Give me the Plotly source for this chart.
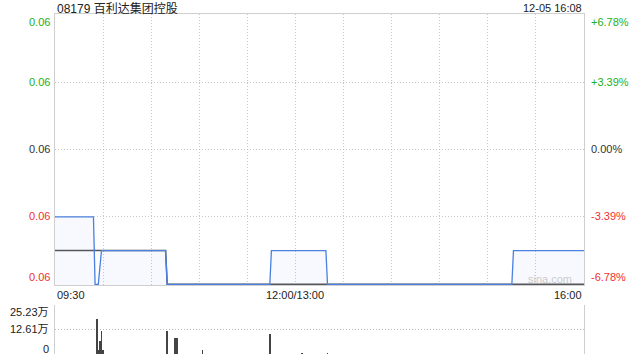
import plotly.graph_objects as go

# ---- data ----
title_text = "08179 百利达集团控股"
date_text = "12-05 16:08"
prev_close = 0.059
price_min, price_max = 0.055, 0.063

# minutes since 09:30 (trading minutes, lunch removed) and prices
price_times = [0, 24, 25, 27, 29, 69, 70, 134, 135, 169, 170, 285, 286, 330]
price_vals = [0.057, 0.057, 0.055, 0.055, 0.056, 0.056, 0.055, 0.055,
              0.056, 0.056, 0.055, 0.055, 0.056, 0.056]

avg_times = [0, 69, 70, 330]
avg_vals = [0.056, 0.056, 0.055, 0.055]

vol_times = [26, 27, 28, 29, 30, 70, 75, 76, 92, 134, 154, 170]
vol_vals = [180000, 20000, 67000, 118000, 20000, 118000, 82000, 82000,
            20000, 103000, 3000, 3000]
vol_max = 252300

left_labels = ["0.06", "0.06", "0.06", "0.06", "0.06"]
right_labels = ["+6.78%", "+3.39%", "0.00%", "-3.39%", "-6.78%"]
label_colors = ["#22b022", "#22b022", "#333333", "#f03030", "#f03030"]
vol_labels = ["25.23万", "12.61万", "0"]
time_labels = ["09:30", "12:00/13:00", "16:00"]

# ---- figure ----
FONT = "Liberation Sans, Arial, Noto Sans CJK SC, sans-serif"
H_TOP, H_BOT = 14, 354  # pixel extents of the paper area
def py(p):
    return (H_BOT - p) / (H_BOT - H_TOP)

fig = go.Figure()
fig.add_trace(go.Scatter(x=avg_times, y=avg_vals, mode="lines",
                         line=dict(color="#555555", width=1.5),
                         xaxis="x", yaxis="y", hoverinfo="skip"))
fig.add_trace(go.Scatter(x=price_times, y=price_vals, mode="lines",
                         line=dict(color="#4a80e0", width=1.3),
                         fill="tozeroy", fillcolor="rgba(90,140,230,0.05)",
                         xaxis="x", yaxis="y", hoverinfo="skip"))
fig.add_trace(go.Bar(x=vol_times, y=vol_vals, width=0.6,
                     marker=dict(color="#444444", line=dict(width=0)),
                     xaxis="x2", yaxis="y2", hoverinfo="skip"))

eps = 0.00002
step = (price_max - prev_close) / 2
DOT = "1px,2px"
fig.update_layout(
    width=640, height=360,
    margin=dict(l=55, r=56, t=H_TOP, b=360 - H_BOT),
    paper_bgcolor="white", plot_bgcolor="white",
    showlegend=False, bargap=0,
    font=dict(family=FONT, size=11, color="#333333"),
    xaxis=dict(domain=[0, 1], range=[0, 330], tickvals=list(range(30, 330, 30)),
               showticklabels=False, ticks="", showgrid=True, gridcolor="#c8c8c8",
               griddash=DOT, gridwidth=1, showline=True, linecolor="#cfcfcf",
               mirror=True, zeroline=False, anchor="y"),
    yaxis=dict(domain=[py(285), 1], range=[price_min - eps, price_max + eps],
               tickvals=[prev_close - step, prev_close, prev_close + step],
               showticklabels=False, ticks="", showgrid=True, gridcolor="#c8c8c8",
               griddash=DOT, showline=True, linecolor="#cfcfcf", mirror=True,
               zeroline=False, anchor="x"),
    xaxis2=dict(domain=[0, 1], range=[0, 330], showticklabels=False, ticks="",
                showgrid=False, showline=False, zeroline=False, anchor="y2"),
    yaxis2=dict(domain=[0, py(305)], range=[0, vol_max],
                tickvals=[0, vol_max / 2, vol_max], showticklabels=False, ticks="",
                showgrid=True, gridcolor="#bbbbbb", griddash=DOT,
                showline=True, linecolor="#cfcfcf", mirror=True, zeroline=False,
                anchor="x2"),
)

ann = []
ann.append(dict(text=title_text, x=0, y=py(8), xref="paper", yref="paper",
                xanchor="left", yanchor="middle", showarrow=False,
                font=dict(size=12, color="#222222",
                          family="Liberation Sans, Noto Sans CJK SC, sans-serif")))
ann.append(dict(text=date_text, x=1, y=py(8), xref="paper", yref="paper",
                xanchor="right", yanchor="middle", showarrow=False,
                font=dict(size=11, color="#222222")))
label_px = [22, 82, 149, 216, 277]
for lt, rt, c, p in zip(left_labels, right_labels, label_colors, label_px):
    ann.append(dict(text=lt, x=0, y=py(p), xref="paper", yref="paper",
                    xanchor="right", yanchor="middle", xshift=-3, showarrow=False,
                    font=dict(size=11, color=c)))
    ann.append(dict(text=rt, x=1, y=py(p), xref="paper", yref="paper",
                    xanchor="left", yanchor="middle", xshift=5, showarrow=False,
                    font=dict(size=11, color=c)))
for t, p in zip(vol_labels, [312, 329, 349]):
    ann.append(dict(text=t, x=0, y=py(p), xref="paper", yref="paper",
                    xanchor="right", yanchor="middle", xshift=-4, showarrow=False,
                    font=dict(size=11, color="#222222",
                              family="Liberation Sans, Noto Sans CJK SC, sans-serif")))
ann.append(dict(text=time_labels[0], x=0, y=py(295), xref="paper", yref="paper",
                xanchor="left", yanchor="middle", showarrow=False,
                font=dict(size=11, color="#222222")))
ann.append(dict(text=time_labels[1], x=150, y=py(295), xref="x", yref="paper",
                xanchor="center", yanchor="middle", showarrow=False,
                font=dict(size=11, color="#222222")))
ann.append(dict(text=time_labels[2], x=1, y=py(295), xref="paper", yref="paper",
                xanchor="right", yanchor="middle", showarrow=False,
                font=dict(size=11, color="#222222")))
ann.append(dict(text="sina.com", x=1, y=py(279), xref="paper", yref="paper",
                xanchor="right", yanchor="middle", xshift=-10, showarrow=False,
                font=dict(size=11, color="#cccccc")))
fig.update_layout(annotations=ann)

fig.write_html("out.html", config={"displayModeBar": False},
               post_script="document.body.style.margin='0';document.body.style.overflow='hidden';")
